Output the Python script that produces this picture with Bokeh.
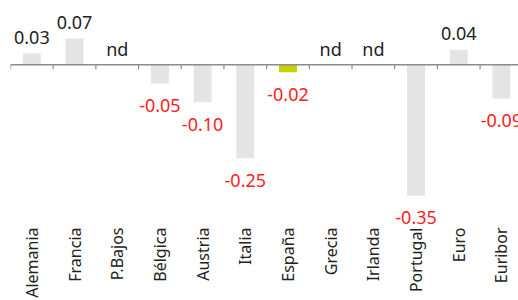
import math
from bokeh.plotting import figure
from bokeh.models import ColumnDataSource, Range1d, FixedTicker, Span
from bokeh.core.properties import value
from bokeh.embed import file_html
from bokeh.resources import INLINE

categories = ["Alemania", "Francia", "P.Bajos", "Bélgica", "Austria", "Italia",
              "España", "Grecia", "Irlanda", "Portugal", "Euro", "Euribor"]
values = [0.03, 0.07, None, -0.05, -0.10, -0.25, -0.02, None, None, -0.35, 0.04, -0.09]
labels = ["0.03", "0.07", "nd", "-0.05", "-0.10", "-0.25", "-0.02", "nd", "nd", "-0.35", "0.04", "-0.09"]
highlight = "España"

FONT = "Noto Sans"
GREY_BAR = "#e4e4e4"
GREEN_BAR = "#c3d300"
RED = "#ff2020"
DARK = "#222222"

xs = list(range(len(categories)))
bar_vals = [v if v is not None else 0.0 for v in values]
bar_colors = [GREEN_BAR if c == highlight else GREY_BAR for c in categories]

p = figure(width=518, height=300, output_backend="svg", toolbar_location=None,
           x_range=Range1d(-0.5, 11.40), y_range=Range1d(-0.432, 0.1715),
           min_border_left=10, min_border_right=0, min_border_top=0, min_border_bottom=0)
p.outline_line_color = None
p.grid.grid_line_color = None
p.yaxis.visible = False

# zero line with category separator ticks
zero = Span(location=0, dimension="width", line_color="#8c8c8c", line_width=1.5)
p.add_layout(zero)
bounds = [i - 0.5 for i in range(len(categories) + 1)]
p.segment(x0=bounds, x1=bounds, y0=[0] * len(bounds), y1=[-0.012] * len(bounds),
          line_color="#8c8c8c", line_width=1.2)

src = ColumnDataSource(dict(x=xs, top=bar_vals, color=bar_colors))
p.vbar(x="x", top="top", bottom=0, width=0.42, fill_color="color", line_color=None, source=src)

pos_x, pos_y, pos_t = [], [], []
neg_x, neg_y, neg_t = [], [], []
for x, v, t in zip(xs, values, labels):
    if v is None or v >= 0:
        pos_x.append(x); pos_y.append(v if v is not None else 0.0); pos_t.append(t)
    else:
        neg_x.append(x); neg_y.append(v); neg_t.append(t)

p.text(x=pos_x, y=pos_y, text=pos_t, text_align="center", text_baseline="alphabetic",
       y_offset=-16, text_font=value(FONT), text_font_size="18px", text_color=DARK)
p.text(x=neg_x, y=neg_y, text=neg_t, text_align="center", text_baseline="alphabetic",
       y_offset=22, text_font=value(FONT), text_font_size="18px", text_color=RED)

ax = p.xaxis[0]
ax.ticker = FixedTicker(ticks=xs)
ax.major_label_overrides = {i: c for i, c in zip(xs, categories)}
ax.major_label_orientation = math.pi / 2
ax.axis_line_color = None
ax.major_tick_line_color = None
ax.minor_tick_line_color = None
ax.major_tick_out = 0
ax.major_tick_in = 0
ax.major_label_standoff = 1
ax.major_label_text_font = FONT
ax.major_label_text_font_size = "16px"
ax.major_label_text_color = DARK

open("out.html", "w").write(file_html(p, INLINE))
